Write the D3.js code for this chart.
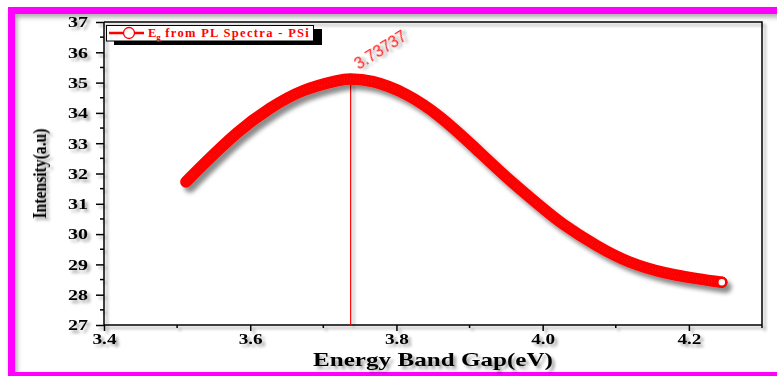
<!DOCTYPE html>
<html>
<head>
<meta charset="utf-8">
<script src="https://cdn.jsdelivr.net/npm/d3@7"></script>
<style>
  html, body { margin: 0; padding: 0; background: #ffffff; }
  svg { display: block; }
</style>
</head>
<body>
<svg id="chart" width="777" height="376"></svg>
<script>
// PL-derived band gap curve for porous silicon
const energy = [3.512, 3.536, 3.582, 3.627, 3.673, 3.718, 3.737, 3.768, 3.814, 3.860, 3.905, 3.951, 3.996, 4.028, 4.074, 4.119, 4.165, 4.211, 4.245];
const intensity = [31.72, 32.30, 33.34, 34.15, 34.74, 35.06, 35.12, 35.03, 34.60, 33.86, 32.90, 31.87, 30.94, 30.33, 29.62, 29.08, 28.74, 28.53, 28.41];
const peakEnergy = 3.73737;
const peakLabel = "3.73737";
const xTicks = [3.4, 3.6, 3.8, 4.0, 4.2];
const xMinorTicks = [3.5, 3.7, 3.9, 4.1, 4.3];
const yTicks = [27, 28, 29, 30, 31, 32, 33, 34, 35, 36, 37];
const yMinorTicks = [27.5, 28.5, 29.5, 30.5, 31.5, 32.5, 33.5, 34.5, 35.5, 36.5];
const seriesName = "from PL Spectra - PSi";
const xTitle = "Energy Band Gap(eV)";
const yTitle = "Intensity(a.u)";

const svg = d3.select("#chart");
const pLeft = 104, pRight = 762, pTop = 22, pBottom = 325;
const serif = "'Liberation Serif', 'Times New Roman', serif";

const x = d3.scaleLinear().domain([3.4, 4.3]).range([pLeft, pRight]);
const y = d3.scaleLinear().domain([27, 37]).range([pBottom, pTop]);

// soft drop shadows
const defs = svg.append("defs");
function shadow(id, dx, dy, sd, op) {
  const f = defs.append("filter").attr("id", id)
    .attr("x", "-20%").attr("y", "-20%").attr("width", "140%").attr("height", "140%");
  f.append("feDropShadow").attr("dx", dx).attr("dy", dy)
    .attr("stdDeviation", sd).attr("flood-color", "#000").attr("flood-opacity", op);
}
shadow("sh", 3, 3, 1.6, 0.35);
shadow("shCurve", 4, 5, 2.2, 0.45);
shadow("shFrame", 2, 3, 2.5, 0.35);

// outer magenta frame
svg.append("rect")
  .attr("x", 11.5).attr("y", 10.5).attr("width", 790).attr("height", 365)
  .attr("fill", "none").attr("stroke", "#ff00ff").attr("stroke-width", 7)
  .attr("filter", "url(#shFrame)");

const g = svg.append("g").attr("filter", "url(#sh)");

// plot frame (top and right)
g.append("path")
  .attr("d", `M${pLeft},${pTop}H${pRight}V${pBottom}`)
  .attr("fill", "none").attr("stroke", "#000").attr("stroke-width", 1.5);

// x axis
const xAxis = g.append("g").attr("transform", `translate(0,${pBottom})`)
  .call(d3.axisBottom(x).tickValues(xTicks).tickSize(6).tickFormat(d3.format(".1f")));
xAxis.selectAll(".tick text")
  .attr("y", 19).attr("dy", 0)
  .attr("font-family", serif).attr("font-weight", "bold").attr("font-size", 15)
  .attr("textLength", 24).attr("lengthAdjust", "spacingAndGlyphs").attr("fill", "#000");
g.append("g").selectAll("line").data(xMinorTicks).join("line")
  .attr("x1", d => x(d)).attr("x2", d => x(d))
  .attr("y1", pBottom).attr("y2", pBottom + 3)
  .attr("stroke", "#000").attr("stroke-width", 1.5);

// y axis
const yAxis = g.append("g").attr("transform", `translate(${pLeft},0)`)
  .call(d3.axisLeft(y).tickValues(yTicks).tickSize(8).tickPadding(8));
yAxis.selectAll(".tick text")
  .attr("font-family", serif).attr("font-weight", "bold").attr("font-size", 15)
  .attr("textLength", 20).attr("lengthAdjust", "spacingAndGlyphs").attr("fill", "#000");
g.append("g").selectAll("line").data(yMinorTicks).join("line")
  .attr("x1", pLeft - 4).attr("x2", pLeft)
  .attr("y1", d => y(d)).attr("y2", d => y(d))
  .attr("stroke", "#000").attr("stroke-width", 1.5);

[xAxis, yAxis].forEach(a => {
  a.select(".domain").attr("stroke", "#000").attr("stroke-width", 1.5);
  a.selectAll(".tick line").attr("stroke", "#000").attr("stroke-width", 1.5);
});
yAxis.select(".domain").attr("d", `M0,${pTop}V${pBottom}`);
xAxis.select(".domain").attr("d", `M${pLeft},0H${pRight}`);

// axis titles
g.append("text")
  .attr("x", (pLeft + pRight) / 2).attr("y", 366)
  .attr("text-anchor", "middle")
  .attr("font-family", serif).attr("font-weight", "bold").attr("font-size", 19)
  .attr("textLength", 240).attr("lengthAdjust", "spacingAndGlyphs")
  .text(xTitle);
g.append("text")
  .attr("transform", `translate(46,${(pTop + pBottom) / 2}) rotate(-90)`)
  .attr("text-anchor", "middle")
  .attr("font-family", serif).attr("font-weight", "bold").attr("font-size", 19)
  .attr("textLength", 90).attr("lengthAdjust", "spacingAndGlyphs")
  .text(yTitle);

// peak marker line and label
const peakIdx = d3.maxIndex(intensity);
g.append("line")
  .attr("x1", x(peakEnergy)).attr("x2", x(peakEnergy))
  .attr("y1", y(intensity[peakIdx])).attr("y2", pBottom)
  .attr("stroke", "#ff0000").attr("stroke-width", 1.2);
svg.append("text")
  .attr("transform", `translate(${x(peakEnergy) + 8},${y(intensity[peakIdx]) - 9}) rotate(-32)`)
  .attr("font-family", "'Liberation Sans', Arial, sans-serif").attr("font-size", 16)
  .attr("fill", "#ff2020").attr("filter", "url(#sh)")
  .text(peakLabel);

// the band-gap curve
const pts = energy.map((e, i) => [e, intensity[i]]);
const line = d3.line().x(d => x(d[0])).y(d => y(d[1])).curve(d3.curveNatural);
const curveG = svg.append("g").attr("filter", "url(#shCurve)");
curveG.append("path")
  .attr("d", line(pts))
  .attr("fill", "none").attr("stroke", "#ff0000").attr("stroke-width", 11.5)
  .attr("stroke-linecap", "round").attr("stroke-linejoin", "round");
curveG.append("path")
  .attr("d", line(pts))
  .attr("fill", "none").attr("stroke", "#e81c1c").attr("stroke-width", 5)
  .attr("stroke-dasharray", "1.5 1.5").attr("opacity", 0.3);
const last = pts[pts.length - 1];
curveG.append("circle")
  .attr("cx", x(last[0])).attr("cy", y(last[1])).attr("r", 4.5)
  .attr("fill", "#fff").attr("stroke", "#ff0000").attr("stroke-width", 2.5);

// legend
const lg = svg.append("g");
lg.append("rect").attr("x", 114).attr("y", 29).attr("width", 208).attr("height", 16).attr("fill", "#000");
lg.append("rect").attr("x", 106.5).attr("y", 25.5).attr("width", 207).attr("height", 15.5)
  .attr("fill", "#fff").attr("stroke", "#000").attr("stroke-width", 1);
lg.append("line").attr("x1", 109).attr("x2", 144).attr("y1", 33).attr("y2", 33)
  .attr("stroke", "#ff0000").attr("stroke-width", 2.5);
lg.append("circle").attr("cx", 129).attr("cy", 33).attr("r", 5.5)
  .attr("fill", "#fff").attr("stroke", "#ff0000").attr("stroke-width", 1.3);
const lt = lg.append("text")
  .attr("x", 148).attr("y", 37)
  .attr("font-family", serif).attr("font-weight", "bold").attr("font-size", 12.5)
  .attr("fill", "#ff0000");
lt.append("tspan").text("E");
lt.append("tspan").attr("dy", 3).attr("font-size", 9).text("g");
lt.append("tspan").attr("dy", -3).attr("textLength", 148).attr("lengthAdjust", "spacing").text(" " + seriesName);
</script>
</body>
</html>
